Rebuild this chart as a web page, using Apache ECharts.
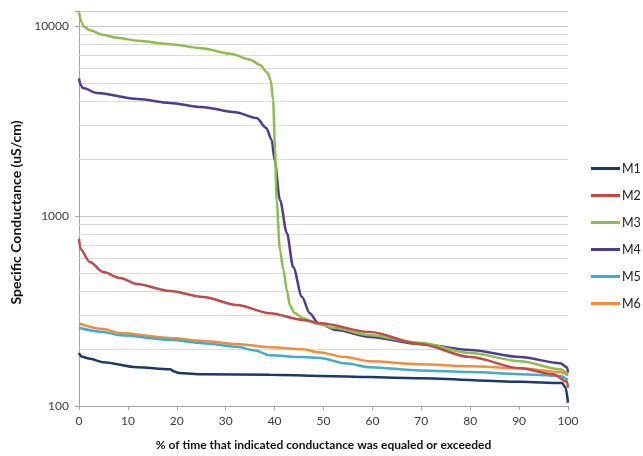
<!DOCTYPE html>
<html>
<head>
<meta charset="utf-8">
<script src="https://cdn.jsdelivr.net/npm/echarts@6/dist/echarts.min.js"></script>
<style>
  html, body { margin: 0; padding: 0; background: #fff; }
  #chart { width: 643px; height: 456px; }
</style>
</head>
<body>
<div id="chart"></div>
<script>
// duration curves: [% of time, specific conductance uS/cm]
var m1 = [[0,190],[0.5,182],[2,178],[5,170],[11.8,160],[18.6,156],[19.5,152],[20.5,149],[25.4,147],[39,146],[49.3,144],[69.7,140],[90.2,134],[98.8,132],[99.5,125],[100,104]];
var m2 = [[0,760],[0.3,670],[2.2,573],[5,507],[8.4,472],[11.8,439],[18.6,403],[25.4,375],[32.3,340],[39,308],[45.8,284],[49.3,273],[59.5,245],[69.7,212],[80,181],[90.2,158],[97,147],[99.8,134],[100,125]];
var m3 = [[0,11800],[0.5,10500],[1,9900],[2.2,9500],[5,8980],[8,8650],[12,8370],[18.6,8030],[25,7650],[31,7150],[35,6650],[37,6240],[38.5,5700],[39.2,5200],[39.7,4080],[40.1,2220],[40.4,1213],[41.1,662],[41.8,520],[42.5,408],[43.1,340],[44,310],[45.8,290],[48.9,270],[52,258],[59.5,236],[69.7,215],[80,190],[90.2,172],[98.4,156],[100,146]];
var m4 = [[0,5300],[0.3,4900],[0.8,4720],[3.7,4440],[12,4130],[18.6,3940],[25,3750],[32,3520],[36.3,3280],[38.3,2910],[39.4,2510],[40,1970],[41.1,1213],[42.5,814],[43.8,539],[45.6,375],[47.2,308],[48.9,273],[52.7,251],[59.5,231],[69.7,212],[80,197],[90.2,181],[98.4,168],[99.8,160],[100,150]];
var m5 = [[0,258],[5,245],[8.4,236],[18.6,223],[25.4,214],[32.3,205],[36,196],[39,185],[45.8,181],[49.3,179],[54.4,168],[59.5,160],[69.7,154],[80,151],[90.2,147],[98.4,144],[100,137]];
var m6 = [[0,272],[5,254],[8.4,242],[18.6,228],[25.4,220],[32.3,212],[39,204],[45.8,199],[48.9,192],[54.4,181],[59.5,172],[69.7,166],[80,162],[90.2,158],[98.4,151],[100,145]];

var seriesNames = ['M1', 'M2', 'M3', 'M4', 'M5', 'M6'];
var seriesData = [m1, m2, m3, m4, m5, m6];
var colors = ['#1c3a66', '#be4b48', '#8cbd4f', '#4e3d8e', '#45aacb', '#f28c3c'];

// minor gridlines of the log axis
var minorValues = [200,300,400,500,600,700,800,900,2000,3000,4000,5000,6000,7000,8000,9000];

var FONT = 'Lato, "Liberation Sans", sans-serif';
var chart = echarts.init(document.getElementById('chart'));

var series = seriesNames.map(function (name, i) {
    return {
        name: name,
        type: 'line',
        data: seriesData[i],
        symbol: 'none',
        smooth: 0.3,
        smoothMonotone: 'x',
        lineStyle: { width: 2.5, color: colors[i] },
        itemStyle: { color: colors[i] },
        z: 10 - i
    };
});

// gridlines as a separate silent series
series.unshift({
    name: 'grid',
    type: 'line',
    data: [],
    silent: true,
    markLine: {
        silent: true,
        symbol: 'none',
        label: { show: false },
        lineStyle: { color: '#dcdcdc', width: 1, type: 'solid' },
        data: minorValues.map(function (v) { return { yAxis: v }; })
    },
    z: 1
});

var option = {
    backgroundColor: '#fff',
    animation: false,
    grid: { left: 79, right: 75, top: 11, bottom: 50 },
    legend: {
        data: seriesNames,
        orient: 'vertical',
        left: 591,
        top: 162,
        padding: 0,
        icon: 'rect',
        itemWidth: 29,
        itemHeight: 3,
        itemGap: 14,
        textStyle: { fontFamily: FONT, fontSize: 12.5, color: '#222', padding: [0, 0, 0, -3] }
    },
    xAxis: {
        type: 'value',
        min: 0,
        max: 100,
        interval: 10,
        name: '% of time that indicated conductance was equaled or exceeded',
        nameLocation: 'middle',
        nameGap: 33,
        nameTextStyle: { fontFamily: FONT, fontSize: 12, fontWeight: 'bold', color: '#111' },
        axisLine: { lineStyle: { color: '#a6a6a6' } },
        axisTick: { show: true, length: 4, lineStyle: { color: '#a6a6a6' } },
        axisLabel: { fontFamily: FONT, fontSize: 12, color: '#404040', margin: 9 },
        splitLine: { show: false }
    },
    yAxis: {
        type: 'log',
        logBase: 10,
        min: 100,
        max: 12000,
        name: 'Specific Conductance (uS/cm)',
        nameLocation: 'middle',
        nameGap: 54,
        nameTextStyle: { fontFamily: FONT, fontSize: 14, fontWeight: 'bold', color: '#111', padding: [0, 8, 0, 0] },
        axisLine: { show: true, lineStyle: { color: '#a6a6a6' } },
        axisTick: { show: true, length: 4, lineStyle: { color: '#a6a6a6' } },
        axisLabel: {
            fontFamily: FONT, fontSize: 12, color: '#404040', margin: 10,
            formatter: function (v) {
                var e = Math.log10(v);
                return Math.abs(e - Math.round(e)) < 1e-6 ? String(Math.round(v)) : '';
            }
        },
        splitLine: { show: true, lineStyle: { color: '#c8c8c8', width: 1 } }
    },
    series: series
};

chart.setOption(option);
</script>
</body>
</html>
